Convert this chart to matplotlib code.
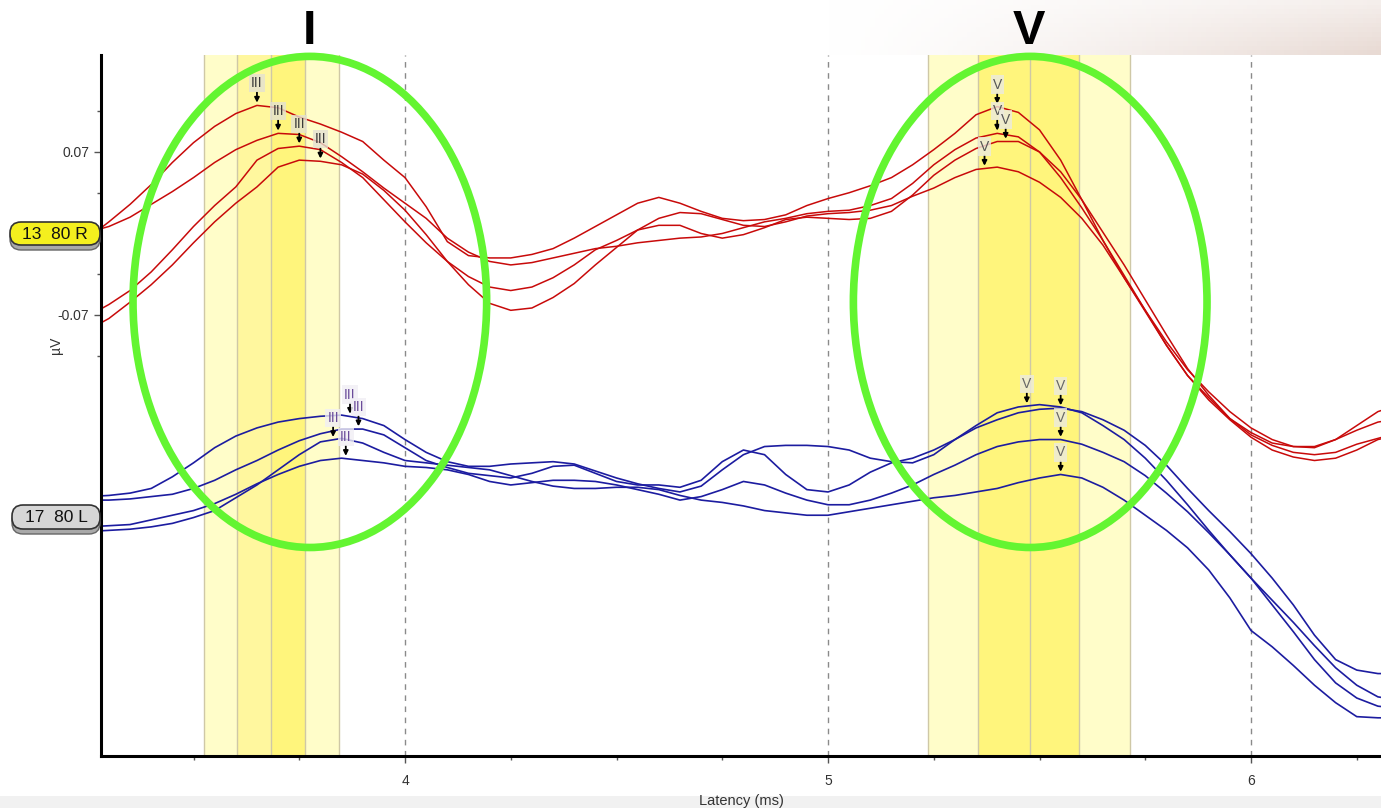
import numpy as np
import matplotlib
matplotlib.use("Agg")
import matplotlib.pyplot as plt
from matplotlib.patches import Ellipse, Rectangle, FancyBboxPatch
from matplotlib.ticker import FixedLocator, MultipleLocator
from matplotlib.transforms import IdentityTransform

plt.rcParams['font.family'] = ['Liberation Sans', 'DejaVu Sans']

# ---------------- data ----------------
latency = [3.25, 3.30, 3.35, 3.40, 3.45, 3.50, 3.55, 3.60, 3.65, 3.70,
           3.75, 3.80, 3.85, 3.90, 3.95, 4.00, 4.05, 4.10, 4.15, 4.20,
           4.25, 4.30, 4.35, 4.40, 4.45, 4.50, 4.55, 4.60, 4.65, 4.70,
           4.75, 4.80, 4.85, 4.90, 4.95, 5.00, 5.05, 5.10, 5.15, 5.20,
           5.25, 5.30, 5.35, 5.40, 5.45, 5.50, 5.55, 5.60, 5.65, 5.70,
           5.75, 5.80, 5.85, 5.90, 5.95, 6.00, 6.05, 6.10, 6.15, 6.20,
           6.25, 6.30, 6.35]

# right ear (13 80 R) traces, microvolts
red_1 = [-0.004, 0.010, 0.025, 0.042, 0.061, 0.078, 0.092, 0.103, 0.110, 0.108,
         0.100, 0.094, 0.087, 0.079, 0.063, 0.048, 0.023, -0.007, -0.019, -0.021,
         -0.021, -0.018, -0.013, -0.004, 0.006, 0.016, 0.026, 0.031, 0.026, 0.019,
         0.013, 0.011, 0.012, 0.016, 0.024, 0.030, 0.035, 0.041, 0.048, 0.059,
         0.072, 0.086, 0.102, 0.109, 0.104, 0.089, 0.063, 0.029, -0.006, -0.038,
         -0.067, -0.096, -0.122, -0.141, -0.159, -0.171, -0.180, -0.183, -0.184, -0.177,
         -0.165, -0.153, -0.147]
red_2 = [0.001, 0.006, 0.014, 0.025, 0.036, 0.048, 0.061, 0.072, 0.080, 0.086,
         0.085, 0.078, 0.066, 0.053, 0.039, 0.026, 0.013, -0.004, -0.016, -0.024,
         -0.027, -0.025, -0.021, -0.017, -0.013, -0.011, -0.008, -0.006, -0.004, -0.003,
         0.000, 0.005, 0.010, 0.013, 0.017, 0.019, 0.020, 0.024, 0.030, 0.043,
         0.059, 0.072, 0.082, 0.086, 0.083, 0.070, 0.048, 0.022, -0.006, -0.036,
         -0.066, -0.096, -0.122, -0.143, -0.160, -0.175, -0.186, -0.192, -0.195, -0.193,
         -0.186, -0.177, -0.173]
red_3 = [-0.071, -0.061, -0.049, -0.033, -0.014, 0.006, 0.024, 0.040, 0.063, 0.073,
         0.075, 0.072, 0.061, 0.048, 0.029, 0.010, -0.008, -0.024, -0.037, -0.046,
         -0.049, -0.046, -0.038, -0.027, -0.014, -0.006, 0.003, 0.007, 0.007, 0.000,
         -0.004, -0.001, 0.005, 0.012, 0.014, 0.013, 0.012, 0.013, 0.019, 0.033,
         0.050, 0.063, 0.073, 0.079, 0.079, 0.070, 0.053, 0.029, 0.001, -0.027,
         -0.057, -0.087, -0.116, -0.139, -0.159, -0.173, -0.182, -0.188, -0.190, -0.188,
         -0.181, -0.176, -0.171]
red_4 = [-0.083, -0.073, -0.059, -0.044, -0.027, -0.008, 0.010, 0.026, 0.040, 0.057,
         0.063, 0.062, 0.059, 0.051, 0.037, 0.020, -0.001, -0.024, -0.044, -0.060,
         -0.066, -0.064, -0.055, -0.043, -0.027, -0.012, 0.003, 0.013, 0.018, 0.017,
         0.012, 0.007, 0.006, 0.010, 0.015, 0.017, 0.018, 0.020, 0.024, 0.032,
         0.039, 0.048, 0.055, 0.057, 0.053, 0.044, 0.031, 0.013, -0.010, -0.038,
         -0.066, -0.093, -0.117, -0.136, -0.153, -0.167, -0.177, -0.183, -0.183, -0.177,
         -0.169, -0.162, -0.159]

# left ear (17 80 L) traces, microvolts (as displayed, stacked below)
blue_1 = [-0.226, -0.225, -0.223, -0.219, -0.209, -0.197, -0.184, -0.174, -0.167, -0.162,
          -0.159, -0.157, -0.156, -0.159, -0.165, -0.177, -0.188, -0.196, -0.200, -0.200,
          -0.198, -0.197, -0.196, -0.198, -0.204, -0.210, -0.215, -0.219, -0.222, -0.217,
          -0.203, -0.190, -0.183, -0.182, -0.182, -0.183, -0.186, -0.193, -0.196, -0.197,
          -0.190, -0.177, -0.165, -0.154, -0.149, -0.147, -0.149, -0.154, -0.165, -0.177,
          -0.193, -0.212, -0.233, -0.255, -0.276, -0.296, -0.315, -0.334, -0.354, -0.373,
          -0.388, -0.398, -0.401]
blue_2 = [-0.229, -0.229, -0.228, -0.226, -0.224, -0.219, -0.212, -0.203, -0.195, -0.186,
          -0.178, -0.172, -0.168, -0.168, -0.173, -0.184, -0.195, -0.201, -0.206, -0.208,
          -0.210, -0.206, -0.200, -0.199, -0.206, -0.213, -0.216, -0.216, -0.218, -0.212,
          -0.196, -0.186, -0.190, -0.207, -0.220, -0.222, -0.216, -0.205, -0.197, -0.193,
          -0.186, -0.177, -0.167, -0.160, -0.154, -0.151, -0.150, -0.153, -0.160, -0.169,
          -0.182, -0.199, -0.219, -0.238, -0.256, -0.275, -0.296, -0.319, -0.345, -0.366,
          -0.375, -0.378, -0.378]
blue_3 = [-0.252, -0.251, -0.250, -0.246, -0.242, -0.238, -0.232, -0.224, -0.215, -0.207,
          -0.200, -0.195, -0.193, -0.195, -0.197, -0.200, -0.201, -0.203, -0.207, -0.213,
          -0.216, -0.214, -0.212, -0.212, -0.213, -0.216, -0.220, -0.224, -0.229, -0.226,
          -0.220, -0.213, -0.216, -0.223, -0.229, -0.233, -0.233, -0.229, -0.223, -0.216,
          -0.207, -0.199, -0.190, -0.183, -0.179, -0.177, -0.177, -0.181, -0.188, -0.196,
          -0.208, -0.223, -0.239, -0.257, -0.276, -0.296, -0.319, -0.342, -0.366, -0.386,
          -0.399, -0.406, -0.408]
blue_4 = [-0.256, -0.255, -0.254, -0.252, -0.249, -0.244, -0.238, -0.227, -0.216, -0.203,
          -0.190, -0.179, -0.176, -0.180, -0.188, -0.195, -0.197, -0.199, -0.201, -0.203,
          -0.208, -0.213, -0.217, -0.219, -0.219, -0.218, -0.218, -0.220, -0.225, -0.229,
          -0.231, -0.234, -0.238, -0.240, -0.242, -0.242, -0.239, -0.236, -0.233, -0.230,
          -0.227, -0.225, -0.222, -0.219, -0.214, -0.210, -0.207, -0.210, -0.218, -0.229,
          -0.242, -0.255, -0.270, -0.289, -0.313, -0.341, -0.355, -0.371, -0.388, -0.403,
          -0.415, -0.416, -0.416]

# wave markers (latency of marked peak per trace)
red_III_lat = [3.65, 3.70, 3.75, 3.80]
red_V_lat = [5.40, 5.40, 5.42, 5.37]
blue_III_lat = [3.87, 3.89, 3.86, 3.83]
blue_V_lat = [5.47, 5.55, 5.55, 5.55]

# latency windows (shaded bands)
band_III_edges = [3.524, 3.602, 3.683, 3.763, 3.844]
band_V_edges = [5.237, 5.355, 5.478, 5.594, 5.715]

channel_labels = ["13  80 R", "17  80 L"]
x_ticks = [4, 5, 6]
y_ticks = [-0.07, 0.07]
y_ticklabels = ["-0.07", "0.07"]

# ---------------- figure ----------------
W, H = 1381, 808
fig = plt.figure(figsize=(W / 100, H / 100), dpi=100)

# faded header background (photo remnant)
hdr = fig.add_axes([0, 1 - 55 / H, 1, 55 / H], zorder=-5)
hdr.axis('off')
cols = np.linspace(0, 1, 300)
rows = np.linspace(0, 1, 12)
t = (np.clip((cols[None, :] - 0.60) / 0.40, 0, 1) ** 1.3) * (0.45 + 0.55 * rows[:, None])
base = np.array([0.91, 0.855, 0.83])
img = 1 - t[..., None] * (1 - base)[None, None, :]
hdr.imshow(img, aspect='auto', extent=[0, 1, 0, 1], origin='upper')
hdr.set_xlim(0, 1)
hdr.set_ylim(0, 1)

fig.patches.append(Rectangle((0, 0), 1, 12 / H, transform=fig.transFigure,
                             fc='#F1F1F1', ec='none', zorder=-6))

ax = fig.add_axes([101 / W, 1 - 756 / H, 1 - 101 / W, (756 - 55) / H])
ax.set_xlim(3.2813, 6.3073)
ax.set_ylim(-0.4488, 0.1533)

# shaded windows
pale, mid, strong = '#FFFDC9', '#FFF79E', '#FFF57C'
for edges, cl in ((band_III_edges, [pale, mid, strong, pale]),
                  (band_V_edges, [pale, strong, strong, pale])):
    for i in range(4):
        ax.axvspan(edges[i], edges[i + 1], color=cl[i], lw=0, zorder=0.5)
    for e in edges:
        ax.axvline(e, color='#CFC8A6', lw=1.0, zorder=0.6)

# dashed grid at major ticks
for xt in x_ticks:
    ax.axvline(xt, color='#8A8A8A', lw=1.0, ls=(0, (4, 4)), zorder=0.7)

lat = np.array(latency)
reds = [red_1, red_2, red_3, red_4]
blues = [blue_1, blue_2, blue_3, blue_4]
for tr in reds:
    ax.plot(lat, tr, color='#C80A0A', lw=1.1, zorder=2)
for tr in blues:
    ax.plot(lat, tr, color='#1C1CA0', lw=1.2, zorder=2)


def mark(lats, traces, label, tcolor, boxc):
    for la, tr in zip(lats, traces):
        yv = np.interp(la, lat, tr)
        ax.annotate(label, xy=(la, yv), xytext=(0, 15), textcoords='offset pixels',
                    ha='center', va='bottom', fontsize=10, color=tcolor, zorder=3,
                    bbox=dict(boxstyle='square,pad=0.15', fc=boxc, ec='none', alpha=0.8),
                    arrowprops=dict(arrowstyle='-|>', color='black', lw=1.3,
                                    mutation_scale=7, shrinkA=0, shrinkB=2))


mark(red_III_lat, reds, 'III', '#3A3A3A', '#E4E1D2')
mark(red_V_lat, reds, 'V', '#555555', '#ECEAE0')
mark(blue_III_lat, blues, 'III', '#6B4C9A', '#F0EEF4')
mark(blue_V_lat, blues, 'V', '#666666', '#ECEAE0')

# green ellipses
for cx in (3.775, 5.478):
    ax.add_patch(Ellipse((cx, -0.0588), width=0.836, height=0.4218,
                         fill=False, ec='#63F531', lw=5.5, zorder=5, clip_on=False))

# axes styling
for s in ('top', 'right'):
    ax.spines[s].set_visible(False)
for s in ('left', 'bottom'):
    ax.spines[s].set_color('black')
    ax.spines[s].set_linewidth(2.2)
ax.xaxis.set_major_locator(FixedLocator(x_ticks))
ax.xaxis.set_minor_locator(MultipleLocator(0.25))
ax.set_xticklabels([str(v) for v in x_ticks])
ax.yaxis.set_major_locator(FixedLocator(y_ticks))
ax.yaxis.set_minor_locator(FixedLocator([-0.105, -0.035, 0.0, 0.035, 0.105]))
ax.set_yticklabels(y_ticklabels)
ax.tick_params(axis='both', which='major', length=5, width=1, color='#555',
               labelsize=10, labelcolor='#333')
ax.tick_params(axis='both', which='minor', length=3, width=1, color='#555')
ax.tick_params(axis='x', pad=8)
ax.set_xlabel('Latency (ms)', fontsize=10.5, color='#333', labelpad=4)
ax.set_ylabel('µV', fontsize=10, color='#333')
ax.yaxis.set_label_coords(-0.030, 0.586)

# channel labels (pills) with shadow, drawn in pixel coordinates
pills = [(channel_labels[0], 10, 222, 90, 23, '#F4EF1E'),
         (channel_labels[1], 12, 505, 88, 24, '#D6D6D6')]
for lbl, x0, ytop, w, h, fc in pills:
    ybot = H - (ytop + h)
    sh = FancyBboxPatch((x0, ybot - 5), w, h, boxstyle='round,pad=0,rounding_size=11',
                        transform=IdentityTransform(), fc='#A9A9A9', ec='#666', lw=1, zorder=8)
    pl = FancyBboxPatch((x0, ybot), w, h, boxstyle='round,pad=0,rounding_size=11',
                        transform=IdentityTransform(), fc=fc, ec='#333', lw=1.2, zorder=9)
    fig.patches.extend([sh, pl])
    fig.text((x0 + w / 2) / W, 1 - (ytop + h / 2 + 1) / H, lbl, ha='center', va='center',
             fontsize=12.5, color='#111', zorder=10)

# wave titles
fig.text(310 / W, 1 - 31 / H, 'I', ha='center', va='center', fontsize=35,
         fontweight='bold', color='black')
fig.text(1029 / W, 1 - 31 / H, 'V', ha='center', va='center', fontsize=35,
         fontweight='bold', color='black')

fig.savefig('out.png', dpi=100)
